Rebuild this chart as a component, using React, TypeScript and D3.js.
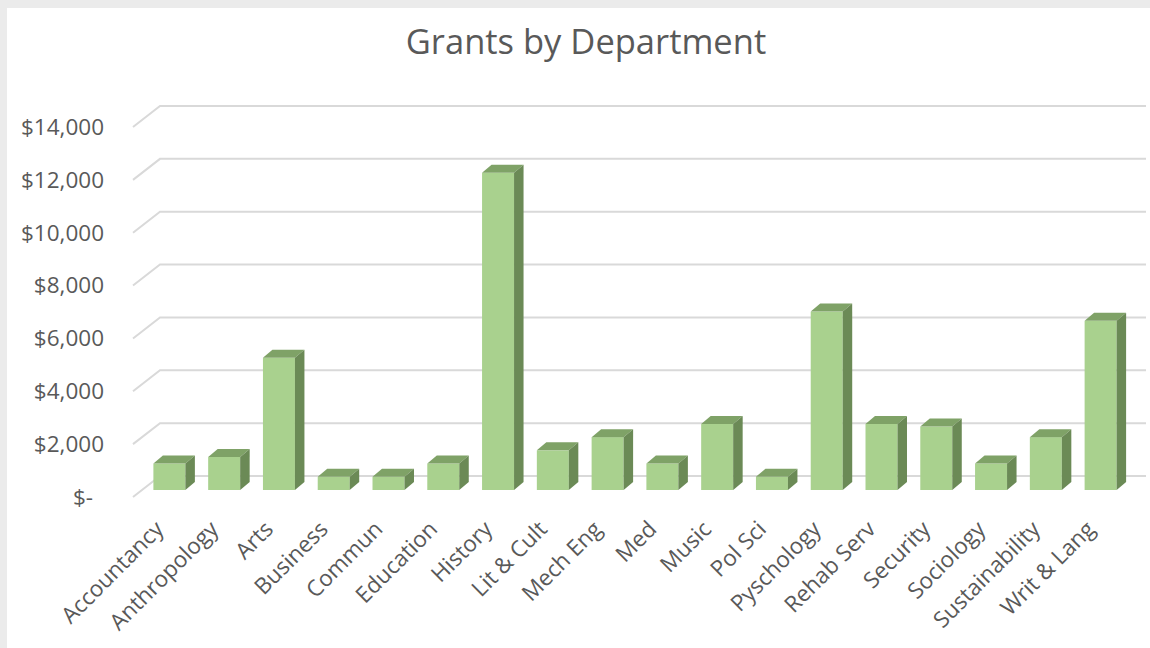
import React from 'react'
import { scaleBand, scaleLinear } from 'd3'

const departments = [
  'Accountancy', 'Anthropology', 'Arts', 'Business', 'Commun', 'Education',
  'History', 'Lit & Cult', 'Mech Eng', 'Med', 'Music', 'Pol Sci',
  'Pyschology', 'Rehab Serv', 'Security', 'Sociology', 'Sustainability', 'Writ & Lang',
]
const grants = [
  1000, 1250, 5000, 500, 500, 1000,
  12000, 1500, 2000, 1000, 2500, 500,
  6750, 2500, 2400, 1000, 2000, 6400,
]
const yTicks = [0, 2000, 4000, 6000, 8000, 10000, 12000, 14000]

const width = 1150
const height = 648

// oblique 3d: front floor edge -> back wall
const front = { left: 133, right: 1119, bottom: 497, top: 127 }
const wall = { dx: 27, dy: -21 }
const barOff = { dx: 9, dy: -7 } // bar front face sits a bit into the floor
const barDepth = { dx: 9.5, dy: -8 }

const fmt = (v: number) => (v === 0 ? '$-' : '$' + v.toLocaleString('en-US'))

export default function App() {
  const x = scaleBand<string>()
    .domain(departments)
    .range([front.left, front.right])
    .paddingInner(0.416)
    .paddingOuter(0.208)

  const y = scaleLinear()
    .domain([0, 14000])
    .range([front.bottom, front.top])

  const font = '"Open Sans", Lato, sans-serif'
  const grey = '#595959'

  return (
    <svg width={width} height={height} style={{ position: 'absolute', left: 0, top: 0 }}>
      <rect width={width} height={height} fill="#ebebeb" />
      <rect x={7} y={8} width={width - 7} height={height - 8} fill="#ffffff" />

      <text x={586} y={54} textAnchor="middle" fontFamily={font} fontSize={34.5} fill={grey}>
        Grants by Department
      </text>

      {/* gridlines: left side wall diagonal + back wall */}
      <g stroke="#d9d9d9" strokeWidth={2} fill="none">
        {yTicks.map(t => (
          <polyline
            key={t}
            points={`${front.left},${y(t)} ${front.left + wall.dx},${y(t) + wall.dy} ${front.right + wall.dx},${y(t) + wall.dy}`}
          />
        ))}
      </g>

      <g fontFamily={font} fontSize={22.5} fill={grey} textAnchor="end">
        {yTicks.map(t => (
          <text key={t} x={104} y={y(t)} dx={t === 0 ? -11 : 0} dy="0.35em">{fmt(t)}</text>
        ))}
      </g>

      <g>
        {departments.map((d, i) => {
          const x0 = x(d)! + barOff.dx
          const x1 = x0 + x.bandwidth()
          const yb = y(0) + barOff.dy
          const yt = y(grants[i]) + barOff.dy
          const { dx, dy } = barDepth
          return (
            <g key={d}>
              <rect x={x0} y={yt} width={x1 - x0} height={yb - yt} fill="#a9d18e" />
              <polygon points={`${x0},${yt} ${x0 + dx},${yt + dy} ${x1 + dx},${yt + dy} ${x1},${yt}`} fill="#7fa267" />
              <polygon points={`${x1},${yt} ${x1 + dx},${yt + dy} ${x1 + dx},${yb + dy} ${x1},${yb}`} fill="#6b8a56" />
            </g>
          )
        })}
      </g>

      <g fontFamily={font} fontSize={22.5} fill={grey} textAnchor="end">
        {departments.map(d => {
          const cx = x(d)! + x.bandwidth() / 2 + barOff.dx
          return (
            <text key={d} transform={`translate(${cx - 10},${525}) rotate(-45)`} dy="0.35em">{d}</text>
          )
        })}
      </g>
    </svg>
  )
}
